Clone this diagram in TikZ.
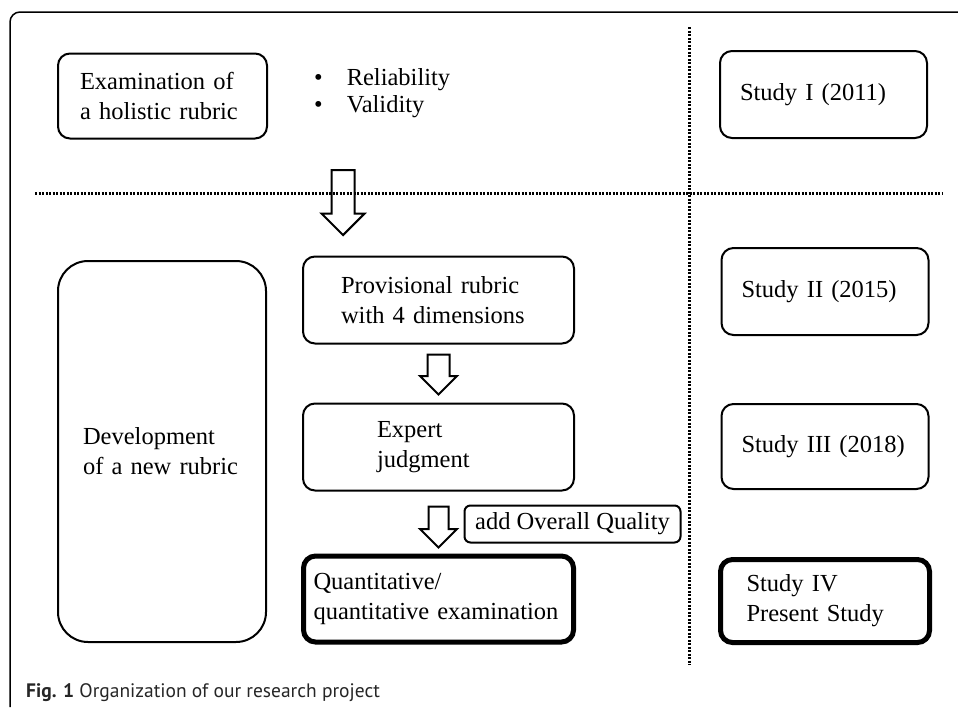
\documentclass[tikz,border=0pt]{standalone}
\usepackage{fontspec}
\setmainfont{Liberation Serif}
\newfontfamily\capfont{PT Sans}
\usetikzlibrary{positioning,shapes.arrows}

\begin{document}
\begin{tikzpicture}[
    x=1pt, y=-1pt,
    every node/.style={font=\fontsize{24.5}{30}\selectfont},
    box/.style={draw, rounded corners=12pt, line width=2pt, align=left,
                minimum height=87pt},
    final/.style={box, line width=5pt},
    down/.style={draw, line width=2pt, single arrow, shape border rotate=270,
                 minimum width=0pt, line join=miter},
    sep/.style={line width=3pt, dash pattern=on 2pt off 1.5pt},
  ]
  \useasboundingbox (0,0) rectangle (958,707);
  % frame, only top and left sides show
  \draw[line width=1.5pt, rounded corners=10pt] (958,12) -- (10,12) -- (10,707);
  \draw[sep] (35,193) -- (943,193);
  \draw[sep] (689,27) -- (689,665);

  \node[box, text width=165pt, inner xsep=22pt, minimum height=85pt] (exam) at (162.5,96)
    {Examination of\\a holistic rubric};
  \node[anchor=west, align=left, inner sep=0pt, font=\fontsize{24.5}{27}\selectfont] (aspects) at (314,93)
    {\textbullet\hspace{24pt}Reliability\\\textbullet\hspace{24pt}Validity};

  \node[box, text width=158pt, inner xsep=25pt, minimum height=381pt, rounded corners=30pt] (dev) at (162,451.5)
    {Development\\of a new rubric};
  \node[box, text width=195pt, inner xsep=38pt] (prov) at (438.5,300)
    {Provisional rubric\\with 4 dimensions};
  \node[box, text width=123pt, inner xsep=74pt, below=58pt of prov] (expert)
    {Expert\\judgment};
  \node[final, text width=250pt, inner xsep=10pt, minimum height=86pt, below=62pt of expert] (quant)
    {Quantitative/\\quantitative examination};
  \node[box, rounded corners=6pt, minimum height=37pt, minimum width=216pt, inner sep=0pt] (overall) at (572.5,524)
    {add Overall Quality};

  \node[down, minimum height=65pt, inner sep=10.5pt, single arrow head extend=10pt, anchor=tip]
    (a1) at ([xshift=41pt, yshift=19pt]prov.north west) {};
  \node[down, minimum height=40pt, inner sep=10pt, single arrow head extend=7.5pt, anchor=tail]
    (a2) at ([yshift=-9pt]prov.south) {};
  \node[down, minimum height=41pt, inner sep=9pt, single arrow head extend=8.5pt, anchor=tail]
    (a3) at ([yshift=-14pt]expert.south) {};

  \node[box, text width=167pt, inner xsep=20pt] (s1) at (823.5,94.5) {Study I (2011)};
  \node[box, text width=167pt, inner xsep=20pt] (s2) at (825,291.5) {Study II (2015)};
  \node[box, text width=167pt, inner xsep=20pt, minimum height=85pt] (s3) at (825,446.5) {Study III (2018)};
  \node[final, text width=157pt, inner xsep=26pt, minimum height=83pt] (s4) at (825,601)
    {Study IV\\Present Study};

  \node[anchor=base west, inner sep=0pt, text=black!85,
        font=\capfont\fontsize{19.5}{22}\selectfont] (caption) at (26,697)
    {\textbf{Fig. 1} Organization of our research project};
\end{tikzpicture}
\end{document}
